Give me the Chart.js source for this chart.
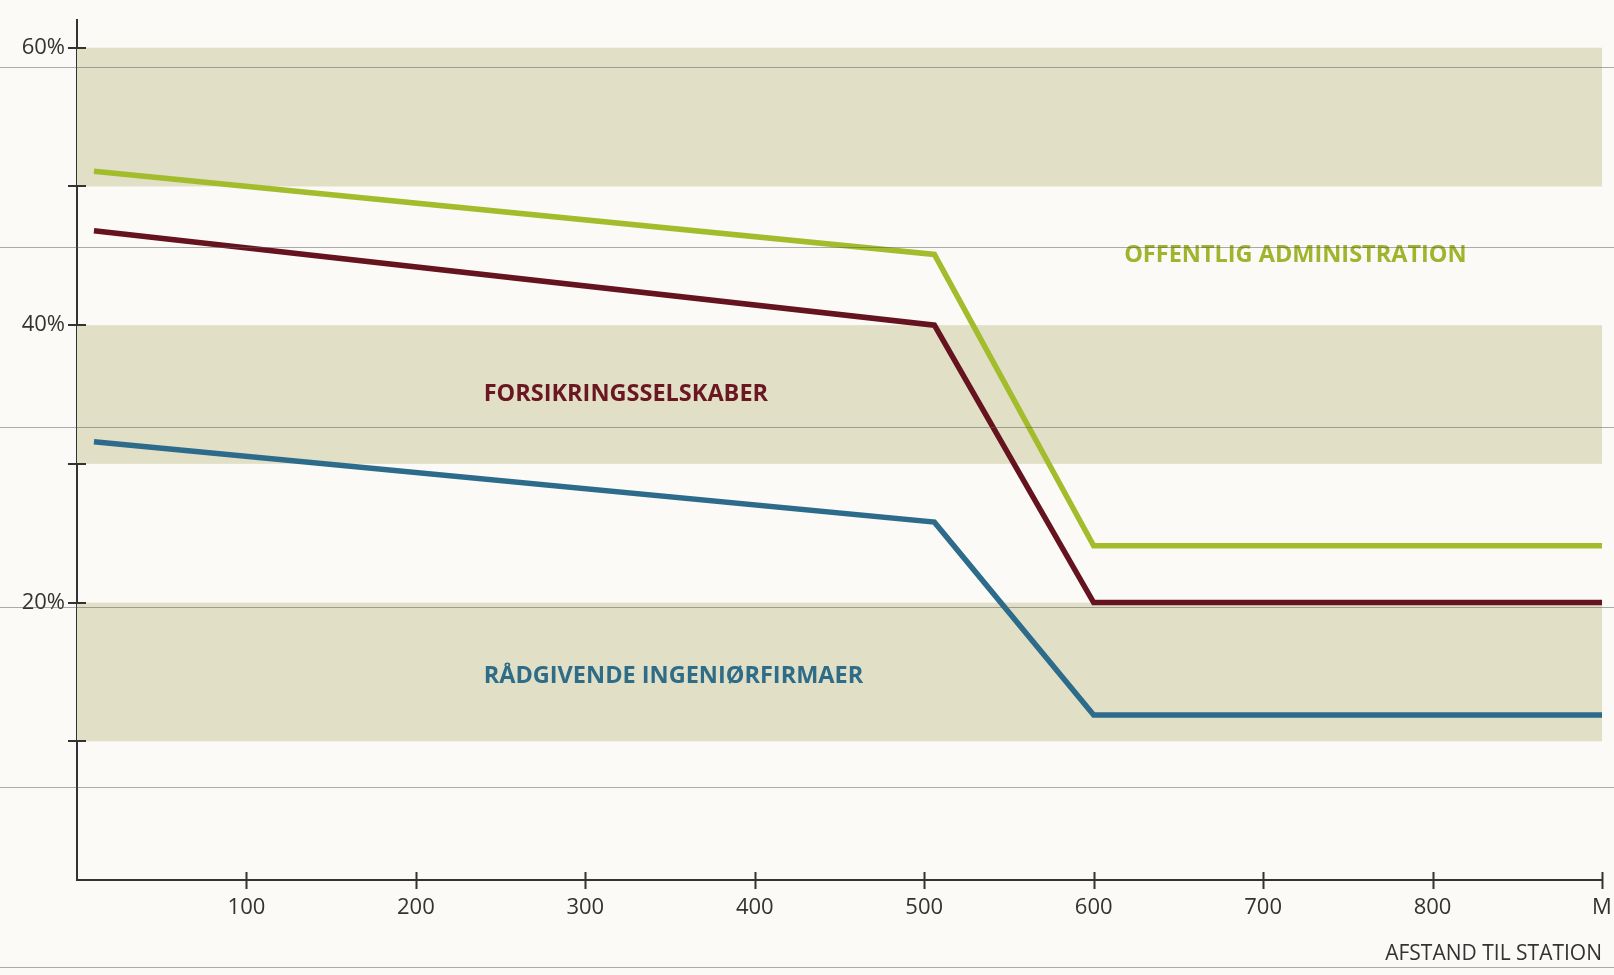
<!DOCTYPE html>
<html>
<head>
<meta charset="utf-8">
<script src="https://cdn.jsdelivr.net/npm/chart.js@4.4.1/dist/chart.umd.min.js"></script>
<style>
  html, body { margin: 0; padding: 0; background: #fbfaf6; }
  #wrap { position: relative; width: 1614px; height: 975px; }
  /* faint scan lines across the page, like the printed original */
  #wrap::after {
    content: ''; position: absolute; inset: 0; pointer-events: none;
    background: repeating-linear-gradient(to bottom,
      transparent 0, transparent 67px,
      rgba(90, 90, 90, 0.5) 67px, rgba(90, 90, 90, 0.5) 68px,
      transparent 68px, transparent 180px);
  }
</style>
</head>
<body>
<div id="wrap"><canvas id="chart" width="1614" height="975"></canvas></div>
<script>
// DATA
const distances = [10, 506, 600, 900];
const offentligAdm = [51.1, 45.1, 24.1, 24.1];
const forsikring = [46.8, 40.0, 20.0, 20.0];
const raadgivende = [31.6, 25.8, 11.9, 11.9];

const seriesNames = ['OFFENTLIG ADMINISTRATION', 'FORSIKRINGSSELSKABER', 'RÅDGIVENDE INGENIØRFIRMAER'];
const nameX = [618, 240, 240];
const nameY = [45.0, 35.0, 14.7];

const xTicks = [0, 100, 200, 300, 400, 500, 600, 700, 800, 900];
const xTickLabels = ['', '100', '200', '300', '400', '500', '600', '700', '800', 'M'];
const yTicks = [0, 10, 20, 30, 40, 50, 60];
const yTickLabels = ['', '', '20%', '', '40%', '', '60%'];
const bandLow = [10, 30, 50];
const bandHigh = [20, 40, 60];

// COLORS
const colors = ['#a2bc2c', '#65131e', '#2d6b8b'];
const textColors = ['#9fb52e', '#6a1722', '#2f6c88'];
const axisColor = '#333';

function toPoints(ys) {
    return ys.map((y, i) => ({ x: distances[i], y: y }));
}

// BANDS
const bandPlugin = {
    id: 'bands',
    beforeDatasetsDraw(chart) {
        const { ctx, chartArea, scales: { y } } = chart;
        ctx.save();
        ctx.fillStyle = '#e1dfc6';
        bandLow.forEach((lo, i) => {
            const top = y.getPixelForValue(bandHigh[i]);
            const bottom = y.getPixelForValue(lo);
            ctx.fillRect(chartArea.left, top, chartArea.right - chartArea.left, bottom - top);
        });
        ctx.restore();
    }
};

// TICKS CROSSING THE AXES
const tickPlugin = {
    id: 'crossTicks',
    afterDraw(chart) {
        const { ctx, scales: { x, y } } = chart;
        const x0 = x.getPixelForValue(0);
        const y0 = y.getPixelForValue(0);
        ctx.save();
        ctx.strokeStyle = axisColor;
        ctx.lineWidth = 2;
        ctx.beginPath();
        xTicks.forEach(v => {
            if (!v) return;
            const px = Math.round(x.getPixelForValue(v)) + 0.5;
            ctx.moveTo(px, y0 - 8);
            ctx.lineTo(px, y0 + 9);
        });
        yTicks.forEach(v => {
            if (!v) return;
            const py = Math.round(y.getPixelForValue(v));
            ctx.moveTo(x0 - 9, py);
            ctx.lineTo(x0 + 9, py);
        });
        ctx.stroke();
        ctx.restore();
    }
};

// SERIES NAMES
const namePlugin = {
    id: 'seriesNames',
    afterDatasetsDraw(chart) {
        const { ctx, scales: { x, y } } = chart;
        ctx.save();
        ctx.font = 'bold 23.5px "Open Sans", sans-serif';
        ctx.textAlign = 'left';
        ctx.textBaseline = 'middle';
        seriesNames.forEach((name, i) => {
            ctx.fillStyle = textColors[i];
            ctx.fillText(name, x.getPixelForValue(nameX[i]), y.getPixelForValue(nameY[i]));
        });
        ctx.restore();
    }
};

const ctx = document.getElementById('chart').getContext('2d');
new Chart(ctx, {
    type: 'line',
    data: {
        datasets: [
            { label: seriesNames[0], data: toPoints(offentligAdm), borderColor: colors[0] },
            { label: seriesNames[1], data: toPoints(forsikring), borderColor: colors[1] },
            { label: seriesNames[2], data: toPoints(raadgivende), borderColor: colors[2] }
        ]
    },
    options: {
        responsive: false,
        animation: false,
        layout: { padding: { top: 20, right: 12, left: 0, bottom: 0 } },
        plugins: {
            legend: { display: false },
            tooltip: { enabled: false }
        },
        elements: {
            point: { radius: 0 },
            line: { borderWidth: 5.5, tension: 0, borderJoinStyle: 'miter', fill: false }
        },
        scales: {
            x: {
                type: 'linear',
                min: 0,
                max: 900,
                afterBuildTicks: s => { s.ticks = xTicks.map(v => ({ value: v })); },
                afterFit: s => { s.height = 95; s.paddingLeft = 0; s.paddingRight = 0; },
                grid: { display: false, drawTicks: false },
                border: { display: true, color: axisColor, width: 2 },
                ticks: {
                    padding: 15,
                    color: axisColor,
                    autoSkip: false,
                    maxRotation: 0,
                    font: { family: 'Open Sans', size: 22 },
                    callback: (v, i) => xTickLabels[i]
                },
                title: {
                    display: true,
                    text: 'AFSTAND TIL STATION',
                    align: 'end',
                    color: axisColor,
                    font: { family: 'Open Sans', size: 21 },
                    padding: { top: 0, bottom: 8 }
                }
            },
            y: {
                min: 0,
                max: 62,
                afterBuildTicks: s => { s.ticks = yTicks.map(v => ({ value: v })); },
                afterFit: s => { s.width = 77; s.paddingTop = 0; s.paddingBottom = 0; },
                grid: { display: false, drawTicks: false },
                border: { display: true, color: axisColor, width: 2 },
                ticks: {
                    padding: 12,
                    color: axisColor,
                    font: { family: 'Open Sans', size: 22 },
                    callback: (v, i) => yTickLabels[i]
                }
            }
        }
    },
    plugins: [bandPlugin, tickPlugin, namePlugin]
});
</script>
</body>
</html>
